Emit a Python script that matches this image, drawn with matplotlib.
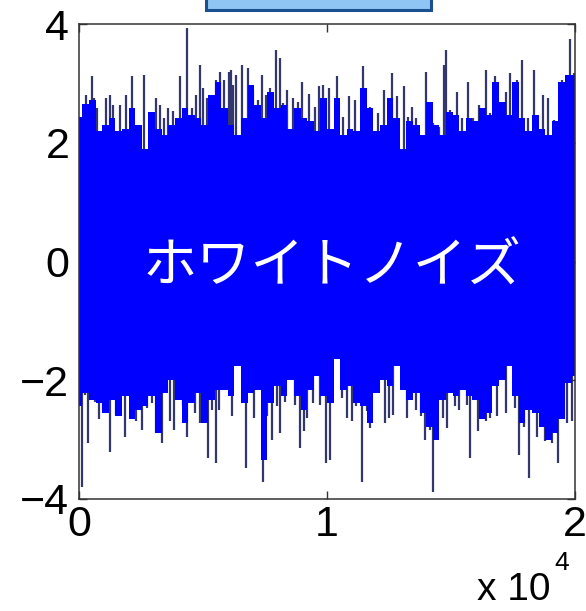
import numpy as np
import matplotlib
matplotlib.use("Agg")
import matplotlib.pyplot as plt
from matplotlib.patches import Rectangle

plt.rcParams['font.family'] = ['Liberation Sans', 'DejaVu Sans']

# upper spike tips: sample index, value
hi_idx = [270, 512, 605, 714, 1077, 1250, 1371, 1653, 1895, 2125, 2621, 3105,
          3266, 3427, 3576, 3790, 4072, 4193, 4355, 4544, 4717, 4879, 5000, 5149,
          5350, 5512, 5685, 5846, 6048, 6129, 6209, 6330, 6560, 6802, 7016, 7205,
          7366, 7540, 7701, 7931, 8104, 8225, 8387, 8628, 8818, 8979, 9274, 9516,
          9677, 9838, 10080, 10403, 10645, 10886, 11128, 11451, 11733, 12056,
          12298, 12608, 12810, 13104, 13265, 13427, 13588, 13991, 14152, 14273,
          14515, 14717, 14797, 14959, 15241, 15443, 15684, 15886, 16128, 16410,
          16572, 16773, 16975, 17217, 17378, 17660, 17862, 18104, 18346, 18708,
          18910, 19152, 19475, 19797, 19958]
hi_tip = [2.81, 3.12, 2.75, 2.58, 2.75, 2.81, 2.64, 2.64, 2.81, 3.12, 3.14, 2.75,
          2.64, 2.41, 2.58, 2.53, 3.12, 2.47, 3.93, 2.58, 2.81, 3.31, 2.92, 2.75,
          2.58, 3.06, 3.20, 3.06, 3.20, 3.23, 2.97, 3.14, 3.31, 3.26, 2.89, 2.72,
          3.14, 2.81, 2.92, 3.57, 3.43, 2.67, 2.89, 2.75, 2.69, 3.03, 2.82, 2.61,
          2.95, 2.97, 2.92, 3.12, 2.44, 2.78, 2.72, 3.29, 2.61, 2.50,
          2.89, 3.17, 2.78, 2.95, 2.44, 2.61, 2.41, 3.20, 2.16, 2.33,
          2.27, 3.31, 3.57, 2.55, 2.86, 2.41, 3.03, 2.41, 2.64, 3.23,
          2.50, 3.12, 2.64, 2.86, 3.17, 3.06, 3.40, 2.41, 3.23, 2.81,
          2.75, 2.38, 3.06, 3.74, 3.17]

# lower spike tips: sample index, value
lo_idx = [109, 242, 375, 645, 818, 980, 1250, 1480, 1653, 1855, 2125, 2298,
          2528, 2754, 2931, 3105, 3334, 3669, 3830, 4205, 4343, 4677, 4879, 5189,
          5350, 5512, 5657, 6181, 6721, 7056, 7431, 7592, 7770, 7971, 8104, 8306,
          8709, 8911, 9072, 9205, 9423, 9717, 9959, 10120, 10592, 10818, 10995,
          11169, 11398, 11600, 11733, 11963, 12338, 12511, 12673, 13237, 13576,
          13777, 13951, 14152, 14285, 14664, 14826, 15160, 15334, 15632, 15765,
          16076, 16237, 16410, 16572, 16866, 17217, 17580, 17753, 17942, 18156,
          18454, 18789, 19059, 19325, 19487, 19664, 19866]
lo_tip = [-3.79, -2.24, -3.06, -2.36, -2.66, -2.50, -3.20, -2.58, -2.61, -2.95, -2.55, -2.69,
          -2.83, -2.47, -2.38, -2.89, -3.06, -2.69, -2.83, -2.44, -2.95, -2.55, -2.72, -3.31,
          -2.50, -3.40, -2.50, -2.61, -3.48, -2.64, -3.71, -2.61, -3.00, -2.44, -2.89, -2.36,
          -2.41, -3.14, -2.86, -2.64, -2.38, -2.41, -3.40, -3.34, -2.30, -2.64, -2.69,
          -2.44, -3.71, -2.52, -2.80, -2.21, -2.72, -2.64, -2.58, -2.64, -2.50,
          -2.61, -3.00, -2.83, -3.88, -2.64, -2.80, -2.44, -2.50, -2.41, -3.31,
          -2.86, -2.58, -2.69, -2.64, -2.61, -2.55, -2.47, -3.26, -2.78, -3.65,
          -2.95, -3.03, -3.06, -3.40, -2.50, -2.72, -2.69]

# dense part of the noise band (upper and lower edge, left to right)
body_hi = [2.44, 2.66, 2.72, 2.19, 2.30, 2.41, 2.19, 2.24, 2.58, 2.30, 1.90, 2.52,
           2.24, 2.13, 2.30, 2.41, 2.58, 2.47, 2.41, 2.30, 2.81, 3.03, 2.58, 2.30,
           2.13, 2.41, 2.98, 2.64, 2.41, 2.86, 2.58, 2.64, 2.24, 2.58, 2.41, 2.36,
           2.19, 2.75, 2.24, 2.75, 2.13, 2.24, 2.19, 2.92, 2.58, 2.19, 2.30, 2.75, 2.41,
           1.90, 2.36, 2.30, 2.13, 2.68, 2.30, 2.13, 2.52, 2.47, 2.19, 2.41, 2.36,
           2.58, 2.47, 3.03, 2.68, 2.47, 3.03, 2.41, 2.19, 2.47, 2.24, 2.13, 2.36,
           3.03, 3.14, 3.14]
body_lo = [-2.44, -2.21, -2.33, -2.38, -2.55, -2.33, -2.61, -2.27, -2.66, -2.50, -2.44, -2.27,
           -2.89, -2.21, -1.99, -2.33, -2.72, -2.38, -2.21, -2.72, -2.33, -2.16, -2.16, -2.27,
           -1.76, -2.38, -2.21, -2.16, -3.34, -2.38, -2.10, -2.27, -1.99, -2.27, -2.50, -2.16,
           -1.93, -2.27, -2.38, -1.65, -2.16, -2.10, -2.38, -2.44, -2.72, -2.21, -1.99, -2.10, -1.76,
           -2.16, -2.33, -2.21, -2.55, -2.78, -3.00, -2.33, -2.21, -2.27, -2.16, -2.27, -2.33,
           -2.66, -2.55, -2.10, -1.99, -1.76, -2.27, -2.72, -2.50, -2.55, -2.78, -3.00, -2.89,
           -2.66, -2.04, -1.93]

xticks = [0, 10000, 20000]
xticklabels = ['0', '1', '2']
yticks = [-4, -2, 0, 2, 4]

W, H = 586, 611
fig = plt.figure(figsize=(W / 100, H / 100), dpi=100)
ax = fig.add_axes([79 / W, 1 - 499 / H, 496 / W, 475 / H])

# spikes first, the dense band drawn over them
ax.vlines(hi_idx, 0, hi_tip, color='#34366e', lw=1.6, zorder=1)
ax.vlines(lo_idx, lo_tip, 0, color='#34366e', lw=1.6, zorder=1)
bx = np.linspace(0, 20000, len(body_hi))
ax.fill_between(bx, body_lo, body_hi, step='mid', color='#0000ff', lw=0, zorder=2)

ax.set_xlim(0, 20000)
ax.set_ylim(-4, 4)
ax.set_xticks(xticks)
ax.set_xticklabels(xticklabels)
ax.set_yticks(yticks)
ax.set_yticklabels(['\u22124', '\u22122', '0', '2', '4'])
ax.tick_params(direction='in', length=6, width=1, color='#333333',
               top=True, right=True, labelsize=31)
ax.tick_params(axis='x', pad=4)
ax.tick_params(axis='y', pad=7)
for s in ax.spines.values():
    s.set_color('#333333')
    s.set_linewidth(1.1)

ax.text(0.51, 0.488, 'ホワイトノイズ', transform=ax.transAxes,
        family=['Noto Sans CJK JP', 'DejaVu Sans'], fontsize=39,
        color='white', ha='center', va='center', zorder=5)

# x 10^4 exponent, bottom right
fig.text(477 / W, 1 - 600 / H, 'x 10', fontsize=28, ha='left', va='baseline')
fig.text(554 / W, 1 - 570 / H, '4', fontsize=19, ha='left', va='baseline')

# box at the top edge
fig.patches.append(Rectangle((206 / W, 1 - 10 / H), 225 / W, 0.05,
                             transform=fig.transFigure, facecolor='#8ec5f2',
                             edgecolor='#1a5090', lw=2.2))

fig.savefig('out.png', dpi=100)
